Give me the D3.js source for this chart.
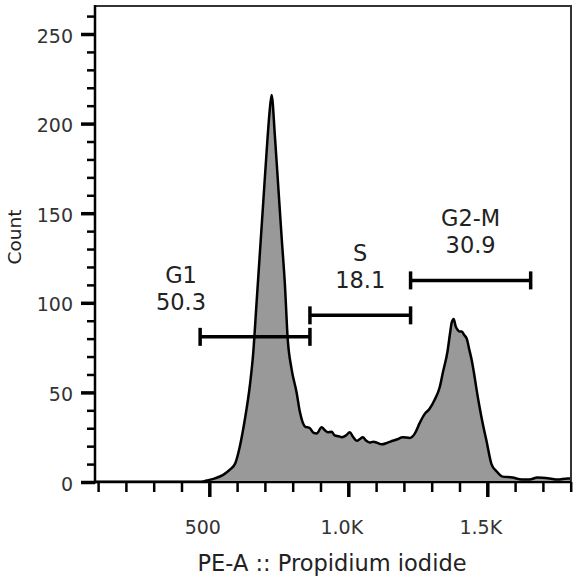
<!DOCTYPE html>
<html>
<head>
<meta charset="utf-8">
<script src="https://cdn.jsdelivr.net/npm/d3@7"></script>
<style>
  body { margin: 0; background: #fff; }
  svg { display: block; font-family: "DejaVu Sans", sans-serif; }
</style>
</head>
<body>
<svg id="chart" width="573" height="576"></svg>
<script>
// histogram: channel value and count
var channel = [89, 470, 490, 520, 550, 575, 593, 610, 628, 646, 658, 670, 682, 694, 706, 716, 724,
  736, 748, 760, 772, 782, 796, 814, 826, 844, 862, 874, 886, 904, 915, 926, 940, 951, 965, 977,
  992, 1005, 1018, 1030, 1042, 1052, 1065, 1077, 1090, 1102, 1120, 1142, 1160, 1174, 1196, 1221,
  1239, 1257, 1275, 1293, 1311, 1329, 1340, 1357, 1366, 1372, 1379, 1386, 1393, 1400, 1408, 1417,
  1426, 1435, 1444, 1453, 1462, 1472, 1483, 1497, 1515, 1533, 1555, 1591, 1624, 1652, 1680, 1724,
  1753, 1789, 1800];
var counts = [0, 0, 0.8, 2, 4, 7, 10.3, 20, 35, 54, 72, 100, 128, 156, 184, 205, 216,
  193, 165, 137, 110, 80, 63, 50, 39, 31, 30, 27.5, 27, 30.5, 29, 27.7, 28, 26, 25.5, 25,
  26, 27.7, 25, 23, 24, 25, 23, 22, 22.5, 22, 21, 22, 23, 23.7, 25, 24.6,
  27, 33, 38, 41, 46, 53, 61, 73, 83, 89, 91, 87, 85, 84, 84, 82,
  80, 74, 68, 60, 51, 42, 33, 23, 10, 6, 3, 2.5, 1.4, 1.4, 2.5, 2,
  1.4, 2, 2];

// gates
var gateNames = ['G1', 'S', 'G2-M'];
var gatePercents = ['50.3', '18.1', '30.9'];
var gateStart = [467, 862, 1224];
var gateEnd = [862, 1224, 1656];
var gateLevel = [81, 93, 112.5];

// ticks
var xMajor = [500, 1000, 1500];
var xMajorLabels = ['500', '1.0K', '1.5K'];
var xMinor = [100, 200, 300, 400, 600, 700, 800, 900, 1100, 1200, 1300, 1400, 1600, 1700, 1800];
var yMajor = [0, 50, 100, 150, 200, 250];
var yMinor = [10, 20, 30, 40, 60, 70, 80, 90, 110, 120, 130, 140, 160, 170, 180, 190, 210, 220, 230, 240, 260];

var svg = d3.select('#chart');
var plotLeft = 95, plotRight = 571, plotTop = 6, plotBottom = 482;

var x = d3.scaleLinear().domain([500, 1500]).range([209.3, 487.3]);
var y = d3.scaleLinear().domain([0, 250]).range([plotBottom, 34]);

var data = channel.map(function (d, i) { return { v: d, c: counts[i] }; });

svg.append('defs').append('clipPath').attr('id', 'plot-clip')
  .append('rect')
  .attr('x', plotLeft).attr('y', plotTop)
  .attr('width', plotRight - plotLeft).attr('height', plotBottom - plotTop);

// histogram area
var area = d3.area()
  .x(d => x(d.v))
  .y0(y(0) - 1.5)
  .y1(d => y(d.c))
  .curve(d3.curveMonotoneX);
var line = d3.line()
  .x(d => x(d.v))
  .y(d => y(d.c))
  .curve(d3.curveMonotoneX);

var plot = svg.append('g').attr('clip-path', 'url(#plot-clip)');
plot.append('path')
  .datum(data)
  .attr('d', area)
  .style('fill', '#999');
plot.append('path')
  .datum(data)
  .attr('d', line)
  .style('fill', 'none')
  .style('stroke', '#000')
  .style('stroke-width', 2.5)
  .style('stroke-linejoin', 'round');

// frame on top and right
svg.append('path')
  .attr('d', `M${plotLeft},${plotTop}H${plotRight}V${plotBottom}`)
  .style('fill', 'none')
  .style('stroke', '#333')
  .style('stroke-width', 2);

// style an axis group: no domain, black ticks, our font
function styleAxis(g, width) {
  g.attr('font-size', null).attr('font-family', null);
  g.selectAll('.domain').remove();
  g.selectAll('line').style('stroke', '#000').style('stroke-width', width);
}

// x axis
var xMinorG = svg.append('g').attr('transform', `translate(0,${plotBottom})`)
  .call(d3.axisBottom(x).tickValues(xMinor).tickSize(10).tickFormat(''));
styleAxis(xMinorG, 2.5);
var xMajorG = svg.append('g').attr('transform', `translate(0,${plotBottom})`)
  .call(d3.axisBottom(x).tickValues(xMajor).tickSize(15)
    .tickFormat((d, i) => xMajorLabels[i]));
styleAxis(xMajorG, 3.5);
xMajorG.selectAll('text')
  .attr('x', -7)
  .attr('y', 52)
  .attr('dy', 0)
  .style('font-size', '19px')
  .style('fill', '#333');

// y axis
var yMinorG = svg.append('g').attr('transform', `translate(${plotLeft},0)`)
  .call(d3.axisLeft(y).tickValues(yMinor).tickSize(8).tickFormat(''));
styleAxis(yMinorG, 2.5);
var yMajorG = svg.append('g').attr('transform', `translate(${plotLeft},0)`)
  .call(d3.axisLeft(y).tickValues(yMajor).tickSize(14));
styleAxis(yMajorG, 3.5);
yMajorG.selectAll('text')
  .attr('x', -22)
  .attr('dy', 0)
  .attr('y', 8)
  .style('font-size', '19px')
  .style('fill', '#333');

// axis lines
svg.append('line')
  .attr('x1', plotLeft).attr('x2', plotLeft).attr('y1', plotTop - 1).attr('y2', plotBottom + 1.5)
  .style('stroke', '#000').style('stroke-width', 2.5);
svg.append('line')
  .attr('x1', plotLeft).attr('x2', plotRight).attr('y1', plotBottom).attr('y2', plotBottom)
  .style('stroke', '#000').style('stroke-width', 2.5);

// axis titles
svg.append('text')
  .attr('x', 332).attr('y', 571)
  .attr('text-anchor', 'middle')
  .style('font-size', '22.5px')
  .style('fill', '#222')
  .text('PE-A :: Propidium iodide');
svg.append('text')
  .attr('transform', 'translate(21,237) rotate(-90)')
  .attr('text-anchor', 'middle')
  .style('font-size', '18.5px')
  .style('fill', '#222')
  .text('Count');

// gate bars and labels
var labelShift = [-74, 0, 0];
gateNames.forEach(function (name, i) {
  var x0 = x(gateStart[i]), x1 = x(gateEnd[i]), gy = y(gateLevel[i]);
  var g = svg.append('g').style('stroke', '#000').style('stroke-width', 3.5);
  g.append('line').attr('x1', x0).attr('x2', x1).attr('y1', gy).attr('y2', gy);
  g.append('line').attr('x1', x0).attr('x2', x0).attr('y1', gy - 9).attr('y2', gy + 9);
  g.append('line').attr('x1', x1).attr('x2', x1).attr('y1', gy - 9).attr('y2', gy + 9);

  var cx = (x0 + x1) / 2 + labelShift[i];
  svg.append('text')
    .attr('x', cx).attr('y', gy - 54)
    .attr('text-anchor', 'middle')
    .style('font-size', '22.5px')
    .style('fill', '#222')
    .text(name);
  svg.append('text')
    .attr('x', cx).attr('y', gy - 27)
    .attr('text-anchor', 'middle')
    .style('font-size', '22.5px')
    .style('fill', '#222')
    .text(gatePercents[i]);
});
</script>
</body>
</html>
